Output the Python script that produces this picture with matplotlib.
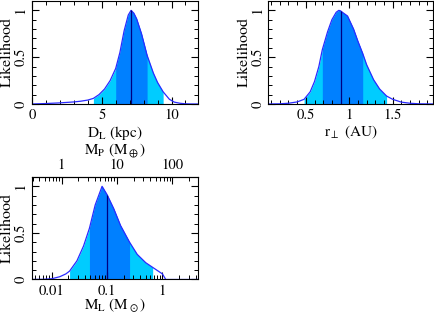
import numpy as np
import matplotlib
matplotlib.use('Agg')
import matplotlib.pyplot as plt
from matplotlib.ticker import MultipleLocator, FuncFormatter, LogLocator, FixedLocator

plt.rcParams['font.family'] = ['STIXGeneral', 'DejaVu Serif']
plt.rcParams['mathtext.fontset'] = 'stix'
plt.rcParams['font.size'] = 10.5

# ---- data ----
# lens distance D_L (kpc)
dl_x = [0.0, 1.0, 2.0, 3.0, 3.5, 4.0, 4.4, 4.8, 5.2, 5.6, 6.0, 6.3, 6.6, 6.9, 7.1,
        7.3, 7.5, 7.85, 8.25, 8.7, 9.0, 9.4, 9.85, 10.2, 10.6, 11.0, 11.5, 11.9]
dl_y = [0.0, 0.005, 0.012, 0.022, 0.03, 0.042, 0.06, 0.10, 0.16, 0.25, 0.38, 0.55, 0.78,
        0.95, 1.0, 0.97, 0.91, 0.75, 0.52, 0.33, 0.23, 0.13, 0.05, 0.02, 0.008, 0.002, 0.0, 0.0]
dl_best = 7.1
dl_1sig = (6.0, 8.25)
dl_2sig = (4.4, 9.4)

# projected separation r_perp (AU)
r_x = [0.07, 0.2, 0.3, 0.4, 0.48, 0.55, 0.6, 0.65, 0.69, 0.75, 0.8, 0.85, 0.88, 0.9,
       0.92, 0.98, 1.05, 1.1, 1.155, 1.2, 1.28, 1.35, 1.43, 1.5, 1.6, 1.7, 1.8, 1.97]
r_y = [0.0, 0.002, 0.008, 0.022, 0.05, 0.13, 0.24, 0.40, 0.58, 0.77, 0.90, 0.98, 1.0, 0.995,
       0.98, 0.94, 0.80, 0.67, 0.54, 0.42, 0.26, 0.16, 0.085, 0.05, 0.02, 0.008, 0.002, 0.0]
r_best = 0.9
r_1sig = (0.69, 1.155)
r_2sig = (0.48, 1.43)

# lens mass M_L (M_sun)
ml_x = [0.0044, 0.007, 0.01, 0.014, 0.018, 0.021, 0.0285, 0.0376, 0.048, 0.061, 0.0812,
        0.1, 0.132, 0.175, 0.255, 0.35, 0.5, 0.667, 1.0, 1.15, 4.4]
ml_y = [0.0, 0.002, 0.008, 0.03, 0.06, 0.09, 0.2, 0.36, 0.55, 0.8, 1.0,
        0.91, 0.76, 0.58, 0.40, 0.27, 0.18, 0.13, 0.06, 0.0, 0.0]
ml_best = 0.1
ml_1sig = (0.048, 0.255)
ml_2sig = (0.021, 0.667)

mp_ticks = [1, 10, 100]
q = 2.0e-4                 # planet/host mass ratio
earth_per_sun = 332946.0
mp_scale = q * earth_per_sun   # M_P [M_earth] per M_L [M_sun]

dark = '#0080ff'
light = '#00ccff'
curve_col = '#2a2aff'
line_col = '#000080'


def style_axis(ax, ylab_x):
    ax.tick_params(which='both', direction='in', top=True, right=True)
    ax.tick_params(which='major', length=5, width=0.8)
    ax.tick_params(which='minor', length=2.8, width=0.7)
    ax.tick_params(axis='y', pad=3)
    ax.yaxis.set_major_locator(MultipleLocator(0.5))
    ax.yaxis.set_minor_locator(MultipleLocator(0.1))
    ax.yaxis.set_major_formatter(FuncFormatter(lambda v, p: '%g' % v))
    for lab in ax.get_yticklabels():
        lab.set_rotation(90)
        lab.set_va('center')
    ax.set_ylim(0, 1.1)
    ax.set_ylabel('Likelihood', fontsize=11.5)
    ax.yaxis.set_label_coords(ylab_x, 0.5)
    for s in ax.spines.values():
        s.set_linewidth(0.8)


def draw_like(ax, x, y, best, s1, s2):
    x = np.array(x)
    y = np.array(y)
    ax.fill_between(x, 0, y, where=(x >= s2[0]) & (x <= s2[1]), color=light, lw=0)
    ax.fill_between(x, 0, y, where=(x >= s1[0]) & (x <= s1[1]), color=dark, lw=0)
    ax.plot(x, y, color=curve_col, lw=0.9)
    ytop = y[np.argmin(np.abs(x - best))]
    ax.vlines(best, 0, ytop, color=line_col, lw=0.9)


fig = plt.figure(figsize=(4.35, 3.14), dpi=100)
ax1 = fig.add_axes([0.0736, 0.6688, 0.3816, 0.328])
ax2 = fig.add_axes([0.6172, 0.6688, 0.3793, 0.328])
ax3 = fig.add_axes([0.0736, 0.1099, 0.3816, 0.3264])

# panel 1
draw_like(ax1, dl_x, dl_y, dl_best, dl_1sig, dl_2sig)
ax1.set_xlim(0, 11.9)
ax1.xaxis.set_major_locator(MultipleLocator(5))
ax1.xaxis.set_minor_locator(MultipleLocator(1))
ax1.set_xlabel(r'D$_{\rm L}$ (kpc)', fontsize=11, labelpad=1)
style_axis(ax1, -0.108)

# panel 2
draw_like(ax2, r_x, r_y, r_best, r_1sig, r_2sig)
ax2.set_xlim(0.07, 1.97)
ax2.xaxis.set_major_locator(MultipleLocator(0.5))
ax2.xaxis.set_minor_locator(MultipleLocator(0.1))
ax2.xaxis.set_major_formatter(FuncFormatter(lambda v, p: '%g' % v))
ax2.set_xlabel(r'r$_\perp$ (AU)', fontsize=11, labelpad=1)
style_axis(ax2, -0.108)

# panel 3
ax3.set_xscale('log')
draw_like(ax3, ml_x, ml_y, ml_best, ml_1sig, ml_2sig)
ax3.set_xlim(0.0044, 4.4)
ax3.xaxis.set_major_locator(LogLocator(base=10))
ax3.xaxis.set_minor_locator(LogLocator(base=10, subs=np.arange(2, 10)))
ax3.xaxis.set_major_formatter(FuncFormatter(lambda v, p: '%g' % v))
ax3.set_xlabel(r'M$_{\rm L}$ (M$_\odot$)', fontsize=11, labelpad=-1)
style_axis(ax3, -0.108)
ax3.tick_params(which='both', top=False)

sec = ax3.secondary_xaxis('top', functions=(lambda m: m * mp_scale, lambda p: p / mp_scale))
sec.xaxis.set_major_locator(FixedLocator(mp_ticks))
sec.xaxis.set_minor_locator(LogLocator(base=10, subs=np.arange(2, 10)))
sec.xaxis.set_major_formatter(FuncFormatter(lambda v, p: '%g' % v))
sec.xaxis.set_minor_formatter(FuncFormatter(lambda v, p: ''))
sec.tick_params(which='both', direction='in')
sec.tick_params(which='major', length=5, width=0.8)
sec.tick_params(which='minor', length=2.8, width=0.7)
sec.set_xlabel(r'M$_{\rm P}$ (M$_\oplus$)', fontsize=11, labelpad=3)

fig.savefig('out.png', dpi=100)
